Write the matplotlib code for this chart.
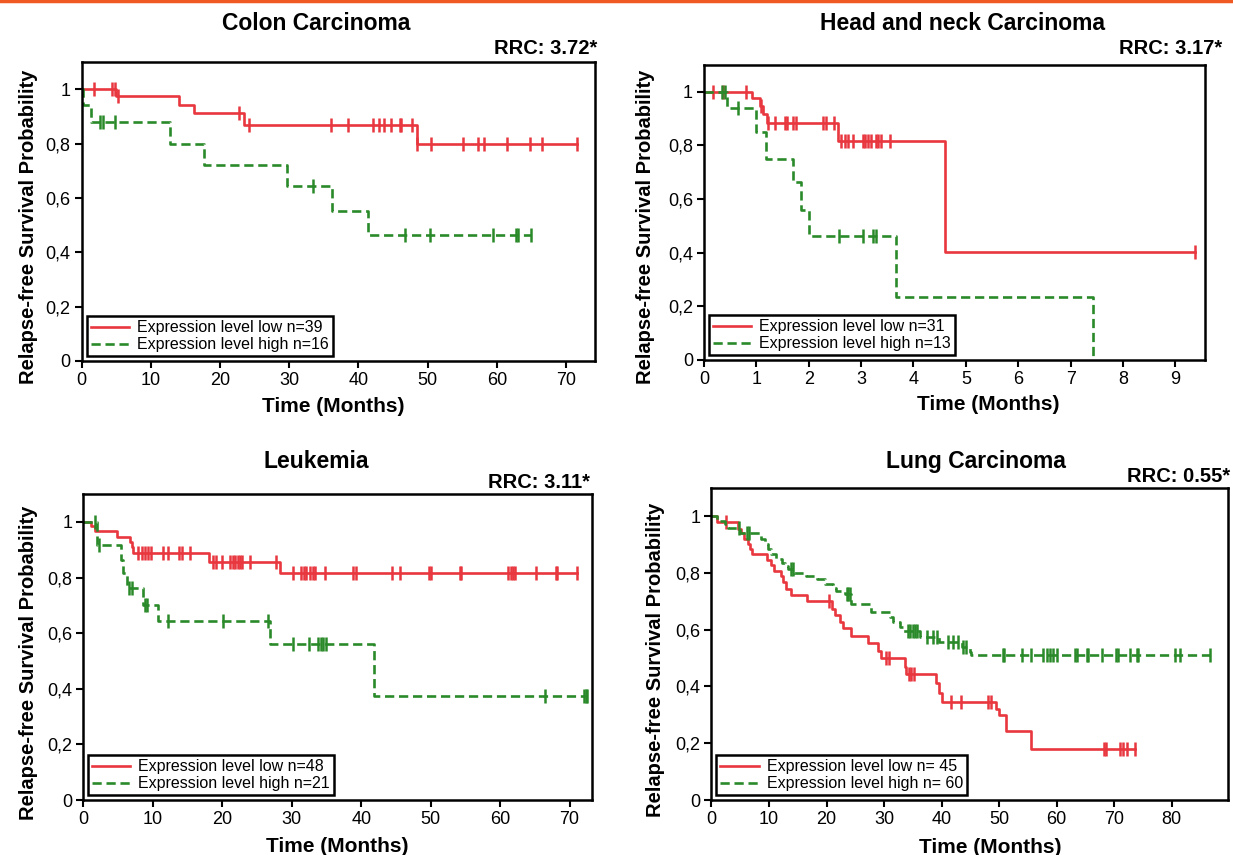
import numpy as np
import matplotlib
matplotlib.use('Agg')
import matplotlib.pyplot as plt
from matplotlib.lines import Line2D

plt.rcParams['font.family'] = ['Liberation Sans', 'DejaVu Sans']

RED = '#e8373e'
GREEN = '#2a8a2a'

# Colon carcinoma
colon_low_t = [0, 5.0, 14.0, 16.2, 23.5, 48.4, 71.6]
colon_low_s = [1.0, 0.974, 0.943, 0.911, 0.869, 0.798, 0.798]
colon_low_c = [1.7, 4.4, 4.8, 5.3, 22.8, 24.2, 36.1, 38.5, 42.1, 42.9, 43.7, 44.7,
               46.0, 46.2, 47.7, 48.5, 50.5, 55.1, 57.3, 58.1, 61.5, 64.8, 66.6, 71.6]
colon_high_t = [0, 0.2, 1.3, 12.7, 17.7, 29.7, 36.2, 41.4, 65.0]
colon_high_s = [1.0, 0.94, 0.878, 0.798, 0.721, 0.642, 0.552, 0.464, 0.464]
colon_high_c = [2.7, 3.1, 4.8, 33.5, 46.7, 50.4, 59.4, 62.8, 63.1, 65.0]

# Head and neck carcinoma
hn_low_t = [0, 0.91, 1.06, 1.13, 1.20, 2.56, 4.61, 9.37]
hn_low_s = [1.0, 0.975, 0.947, 0.916, 0.882, 0.816, 0.403, 0.403]
hn_low_c = [0.18, 0.36, 0.80, 1.08, 1.23, 1.36, 1.55, 1.59, 1.70, 1.75, 2.28, 2.33,
            2.49, 2.62, 2.69, 2.74, 2.84, 3.03, 3.08, 3.14, 3.18, 3.28, 3.33, 3.38,
            3.55, 9.37]
hn_high_t = [0, 0.44, 0.99, 1.18, 1.69, 1.86, 2.00, 3.66, 7.42]
hn_high_s = [1.0, 0.941, 0.850, 0.748, 0.665, 0.558, 0.464, 0.233, 0.0]
hn_high_c = [0.34, 0.40, 0.64, 2.58, 3.04, 3.23, 3.28]

# Leukemia
leuk_low_t = [0, 1.06, 1.68, 4.8, 6.72, 6.96, 7.19, 18.13, 28.3, 71.0]
leuk_low_s = [1.0, 0.985, 0.967, 0.946, 0.929, 0.911, 0.887, 0.857, 0.815, 0.815]
leuk_low_c = [7.9, 8.4, 8.9, 9.35, 9.8, 11.5, 12.2, 13.8, 14.2, 15.3, 18.7, 19.1,
              19.9, 21.1, 21.5, 21.8, 22.2, 22.6, 22.9, 24.0, 27.8, 30.2, 31.4,
              31.8, 32.1, 32.6, 33.0, 33.3, 34.8, 38.8, 39.3, 44.4, 45.6, 49.8,
              50.0, 54.2, 54.4, 61.2, 61.5, 61.9, 62.2, 65.1, 68.0, 68.2, 71.0]
leuk_high_t = [0, 1.93, 5.38, 5.67, 6.24, 8.63, 10.79, 26.86, 41.83, 72.5]
leuk_high_s = [1.0, 0.917, 0.863, 0.815, 0.762, 0.702, 0.645, 0.560, 0.375, 0.375]
leuk_high_c = [1.7, 2.2, 6.62, 6.96, 8.88, 9.12, 12.23, 20.14, 26.62, 30.13, 32.52,
               33.8, 34.2, 34.5, 34.9, 66.4, 72.0, 72.3, 72.5]

# Lung carcinoma
lung_low_t = [0, 0.9, 4.6, 5.2, 5.7, 6.3, 6.7, 7.0, 9.6, 10.4, 10.9, 12.1, 12.5,
              13.0, 13.8, 16.6, 20.9, 21.4, 22.4, 22.8, 24.3, 27.2, 29.0, 29.4,
              33.6, 33.9, 39.0, 39.5, 40.0, 49.4, 49.9, 51.2, 55.5, 73.6]
lung_low_s = [1.0, 0.978, 0.955, 0.941, 0.918, 0.901, 0.883, 0.866, 0.846, 0.827,
              0.807, 0.789, 0.768, 0.743, 0.722, 0.700, 0.673, 0.652, 0.626, 0.605,
              0.578, 0.552, 0.526, 0.501, 0.468, 0.444, 0.412, 0.378, 0.345, 0.322,
              0.298, 0.242, 0.181, 0.181]
lung_low_c = [2.6, 20.5, 30.4, 30.8, 34.3, 34.7, 35.2, 41.6, 43.4, 48.1, 48.6,
              68.2, 68.6, 71.0, 71.6, 72.2, 73.6]
lung_high_t = [0, 0.9, 2.3, 2.9, 5.0, 8.7, 9.3, 9.9, 10.4, 11.3, 12.2, 12.7, 13.3,
               14.4, 16.5, 18.3, 19.7, 21.2, 21.7, 23.2, 24.3, 27.8, 31.0, 31.6,
               32.7, 33.3, 36.2, 39.6, 43.5, 44.9, 45.2, 86.7]
lung_high_s = [1.0, 0.982, 0.971, 0.957, 0.942, 0.918, 0.900, 0.883, 0.865, 0.848,
               0.836, 0.825, 0.813, 0.801, 0.789, 0.778, 0.760, 0.746, 0.735, 0.725,
               0.690, 0.661, 0.643, 0.626, 0.610, 0.596, 0.573, 0.556, 0.538, 0.520,
               0.512, 0.512]
lung_high_c = [4.8, 6.1, 6.5, 13.9, 14.2, 23.5, 23.8, 24.0, 34.2, 34.6, 35.0, 35.4,
               35.8, 37.4, 38.5, 39.2, 41.2, 42.0, 42.9, 43.8, 44.3, 50.6, 50.8,
               53.9, 55.6, 57.7, 58.3, 58.8, 59.4, 60.0, 63.2, 63.5, 65.2, 65.5,
               67.8, 70.4, 70.7, 72.7, 73.9, 74.2, 80.6, 81.4, 86.7]

yticks = [0, 0.2, 0.4, 0.6, 0.8, 1.0]
ytick_labels = ['0', '0,2', '0,4', '0,6', '0,8', '1']

panels = [
    dict(title='Colon Carcinoma', rrc='RRC: 3.72*', n=(39, 16), sep='=',
         low=(colon_low_t, colon_low_s, colon_low_c),
         high=(colon_high_t, colon_high_s, colon_high_c),
         xlim=74.2, xticks=range(0, 71, 10),
         rect=[0.0663, 0.5778, 0.4163, 0.3497],
         title_xy=(316, 23), rrc_xy=(597, 49), xlab_x=0.49, ylab_x=-0.085),
    dict(title='Head and neck Carcinoma', rrc='RRC: 3.17*', n=(31, 13), sep='=',
         low=(hn_low_t, hn_low_s, hn_low_c),
         high=(hn_high_t, hn_high_s, hn_high_c),
         xlim=9.56, xticks=range(0, 10),
         rect=[0.571, 0.579, 0.406, 0.345],
         title_xy=(963, 23), rrc_xy=(1222, 49), xlab_x=0.567, ylab_x=-0.098),
    dict(title='Leukemia', rrc='RRC: 3.11*', n=(48, 21), sep='=',
         low=(leuk_low_t, leuk_low_s, leuk_low_c),
         high=(leuk_high_t, leuk_high_s, leuk_high_c),
         xlim=73.2, xticks=range(0, 71, 10),
         rect=[0.0676, 0.0643, 0.4124, 0.3577],
         title_xy=(316, 461), rrc_xy=(590, 482), xlab_x=0.5, ylab_x=-0.089),
    dict(title='Lung Carcinoma', rrc='RRC: 0.55*', n=(45, 60), sep='= ',
         low=(lung_low_t, lung_low_s, lung_low_c),
         high=(lung_high_t, lung_high_s, lung_high_c),
         xlim=89.8, xticks=range(0, 81, 10),
         rect=[0.577, 0.0643, 0.419, 0.3653],
         title_xy=(976, 461), rrc_xy=(1230, 476), xlab_x=0.54, ylab_x=-0.090),
]


def step_value(t, s, x):
    i = np.searchsorted(t, x, side='right') - 1
    return np.asarray(s)[i]


W, H = 1233, 855
fig = plt.figure(figsize=(W / 100, H / 100), dpi=100)
fig.add_artist(Line2D([0, 1], [0.999, 0.999], color='#f05a22', lw=2.5))

for p in panels:
    ax = fig.add_axes(p['rect'])
    lt, ls, lc = p['low']
    ht, hs, hc = p['high']
    ax.step(lt, ls, where='post', color=RED, lw=1.9,
            label=f"Expression level low n{p['sep']}{p['n'][0]}")
    ax.plot(lc, step_value(lt, ls, lc), ls='none', marker='|', ms=10, mew=1.8, color=RED)
    ax.step(ht, hs, where='post', color=GREEN, lw=1.9, ls=(0, (3.5, 1.8)),
            label=f"Expression level high n{p['sep']}{p['n'][1]}")
    ax.plot(hc, step_value(ht, hs, hc), ls='none', marker='|', ms=10, mew=1.8, color=GREEN)

    ax.set_xlim(0, p['xlim'])
    ax.set_ylim(0, 1.1)
    ax.set_xticks(list(p['xticks']))
    ax.set_yticks(yticks)
    ax.set_yticklabels(ytick_labels)
    ax.tick_params(direction='out', length=5, width=1.5, labelsize=13,
                   top=False, right=False, pad=3)
    for sp in ax.spines.values():
        sp.set_linewidth(1.8)

    ax.set_xlabel('Time (Months)', fontsize=15, fontweight='bold')
    ax.xaxis.set_label_coords(p['xlab_x'], -0.12)
    ax.set_ylabel('Relapse-free Survival Probability', fontsize=14.5, fontweight='bold')
    ax.yaxis.set_label_coords(p['ylab_x'], 0.45)

    leg = ax.legend(loc='lower left', fontsize=11.5, handlelength=2.4,
                    handletextpad=0.5, borderaxespad=0.3, borderpad=0.25,
                    labelspacing=0.12, fancybox=False, framealpha=1)
    leg.get_frame().set_edgecolor('black')
    leg.get_frame().set_linewidth(1.8)

    tx, ty = p['title_xy']
    fig.text(tx / W, 1 - ty / H, p['title'], ha='center', va='center',
             fontsize=16.5, fontweight='bold')
    rx, ry = p['rrc_xy']
    fig.text(rx / W, 1 - ry / H, p['rrc'], ha='right', va='center',
             fontsize=14.5, fontweight='bold')

fig.savefig('out.png', dpi=100)
